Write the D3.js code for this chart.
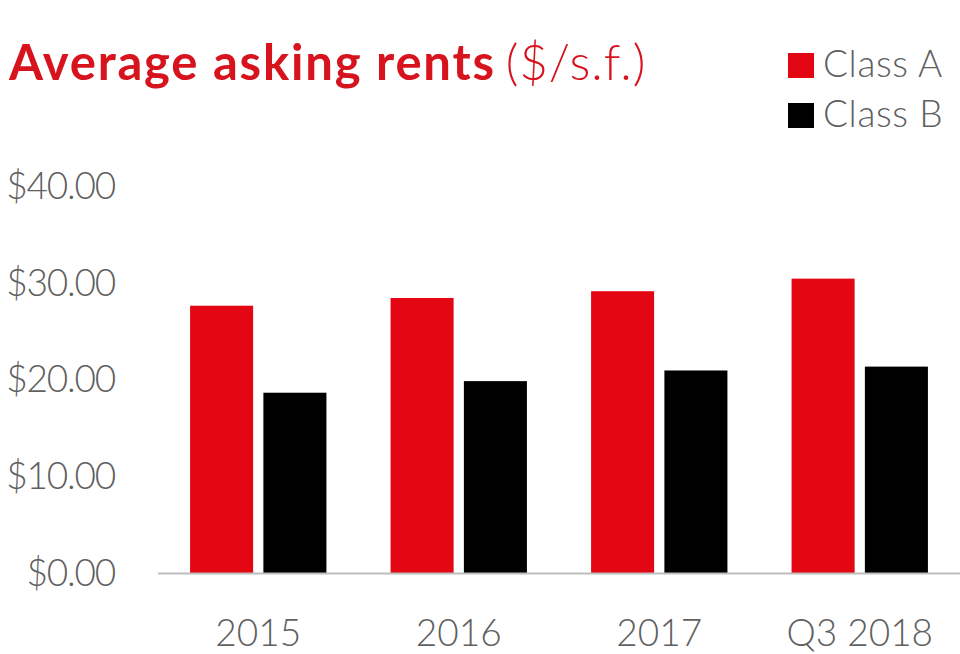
<!DOCTYPE html>
<html>
<head>
<meta charset="utf-8">
<script src="https://cdn.jsdelivr.net/npm/d3@7"></script>
<style>
  body { margin: 0; background: #fff; }
  svg { display: block; font-family: Lato, "Open Sans", sans-serif; }
  .tick text { fill: #606060; font-family: Lato, "Open Sans", sans-serif; font-size: 37px; font-weight: 300; }
  .y.axis .tick text { letter-spacing: -1.2px; }
</style>
</head>
<body>
<svg width="960" height="654"></svg>
<script>
// **** data ****
var categories = ['2015', '2016', '2017', 'Q3 2018'];
var series = ['Class A', 'Class B'];
var classA = [27.7, 28.5, 29.2, 30.5];
var classB = [18.7, 19.9, 21.0, 21.4];
var yTicks = [0, 10, 20, 30, 40];

var colors = { 'Class A': '#e30613', 'Class B': '#000000' };

var rows = categories.map(function(c, i) {
    return { cat: c, values: [
        { key: 'Class A', value: classA[i] },
        { key: 'Class B', value: classB[i] }
    ]};
});

var svg = d3.select('svg');

// **** scales ****
var x0 = d3.scaleBand().domain(categories)
    .range([158, 960]).paddingInner(0.32).paddingOuter(0.16);
var x1 = d3.scaleBand().domain(series)
    .range([0, x0.bandwidth()]).paddingInner(0.14);
var y = d3.scaleLinear().domain([0, 40]).range([573.5, 186.8]);

// **** bars ****
svg.append('g').selectAll('g').data(rows).enter().append('g')
    .attr('transform', function(d) { return 'translate(' + x0(d.cat) + ',0)'; })
    .selectAll('rect').data(function(d) { return d.values; }).enter().append('rect')
    .attr('x', function(d) { return x1(d.key); })
    .attr('y', function(d) { return y(d.value); })
    .attr('width', x1.bandwidth())
    .attr('height', function(d) { return y(0) - y(d.value); })
    .style('fill', function(d) { return colors[d.key]; });

// **** axes ****
svg.append('g').attr('class', 'y axis')
    .attr('transform', 'translate(158,0)')
    .call(d3.axisLeft(y).tickValues(yTicks).tickSize(0).tickPadding(43)
        .tickFormat(function(d) { return '$' + d.toFixed(2); }))
    .call(function(g) { g.select('.domain').remove(); });

svg.append('g').attr('class', 'x axis')
    .attr('transform', 'translate(0,' + y(0) + ')')
    .call(d3.axisBottom(x0).tickSize(0).tickPadding(46))
    .call(function(g) {
        g.select('.domain').remove();
        g.selectAll('text').attr('dy', '0.71em');
    });

svg.append('line')
    .attr('x1', 158).attr('x2', 960)
    .attr('y1', y(0)).attr('y2', y(0))
    .style('stroke', '#bdbdbd').style('stroke-width', 2);

// **** title ****
var title = svg.append('text')
    .attr('x', 9).attr('y', 80)
    .style('fill', '#d7131e').style('font-size', '49px');
title.append('tspan').style('font-weight', 'bold').style('letter-spacing', '1.8px')
    .text('Average asking rents');
title.append('tspan').style('font-weight', 300).style('letter-spacing', '1px')
    .attr('dx', 10).text('($/s.f.)');

// **** legend ****
var legend = svg.append('g').selectAll('g').data(series).enter().append('g')
    .attr('transform', function(d, i) { return 'translate(788,' + (53 + i * 50) + ')'; });
legend.append('rect')
    .attr('width', 26).attr('height', 25)
    .style('fill', function(d) { return colors[d]; });
legend.append('text')
    .attr('x', 35).attr('y', 24)
    .style('fill', '#606060').style('font-size', '37px').style('font-weight', 300)
    .style('letter-spacing', '0.6px')
    .text(function(d) { return d; });
</script>
</body>
</html>
